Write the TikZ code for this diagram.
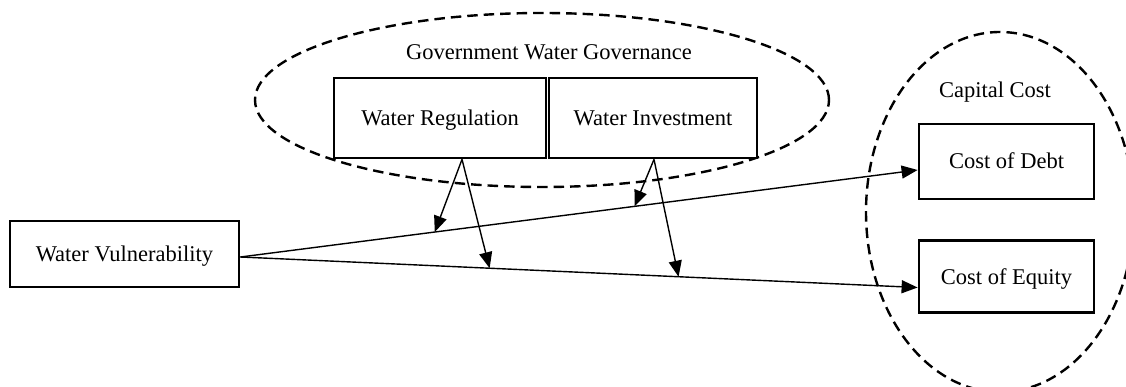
\documentclass[tikz,border=0pt]{standalone}
\usepackage{fontspec}
\setmainfont{Liberation Serif}
\usetikzlibrary{shapes.geometric,arrows.meta,calc}
\begin{document}
\begin{tikzpicture}[x=1pt,y=-1pt,
  every node/.style={font=\fontsize{22.5}{27}\selectfont, inner sep=0pt},
  varbox/.style={draw, line width=2.8pt, fill=white, rectangle, text height=15pt, text depth=0pt},
  groupring/.style={draw, ellipse, line width=2.4pt, dash pattern=on 10.5pt off 6pt},
  grouplabel/.style={},
  link/.style={line width=1.4pt, -{Triangle[length=16pt,width=13pt]}}]
\useasboundingbox (0,0) rectangle (1126,387);
\clip (0,0) rectangle (1126,387);

% grouping ellipses
\node[groupring, minimum width=574pt, minimum height=174pt] (govring) at (542,100) {};
\node[groupring, minimum width=268pt, minimum height=360pt] (capring) at (1000,212) {};
\node[grouplabel] (govtext) at (549,52) {Government Water Governance};
\node[grouplabel] (captext) at (995,92) {Capital Cost};

% variables
\node[varbox, minimum width=229pt, minimum height=66pt] (wv) at (124.5,254) {Water Vulnerability};
\node[varbox, minimum width=212pt, minimum height=80pt] (wr) at (440,118) {Water Regulation};
\node[varbox, minimum width=208pt, minimum height=80pt] (wi) at (653,118) {Water Investment};
\node[varbox, minimum width=175pt, minimum height=75pt] (cod) at (1006.5,161.5) {Cost of Debt};
\node[varbox, minimum width=175pt, minimum height=72pt] (coe) at (1006.5,276.5) {Cost of Equity};

% ports on the boxes
\coordinate (wvout) at ($(wv.east)+(0,3)$);
\coordinate (codin) at ($(cod.west)+(0,8.5)$);
\coordinate (coein) at ($(coe.west)+(0,11)$);
\coordinate (wrout) at ($(wr.south)+(22,0)$);
\coordinate (wiout) at ($(wi.south)+(1,0)$);

% main paths
\draw[link] (wvout) -- (codin);
\draw[link] (wvout) -- (coein);

% moderation targets on the main paths
\coordinate (m1) at ($(wvout)!0.287!(codin)$);
\coordinate (m2) at ($(wvout)!0.368!(coein)$);
\coordinate (m3) at ($(wvout)!0.582!(codin)$);
\coordinate (m4) at ($(wvout)!0.647!(coein)$);

\draw[link] (wrout) -- (m1);
\draw[link] (wrout) -- (m2);
\draw[link] (wiout) -- (m3);
\draw[link] (wiout) -- (m4);
\end{tikzpicture}
\end{document}
